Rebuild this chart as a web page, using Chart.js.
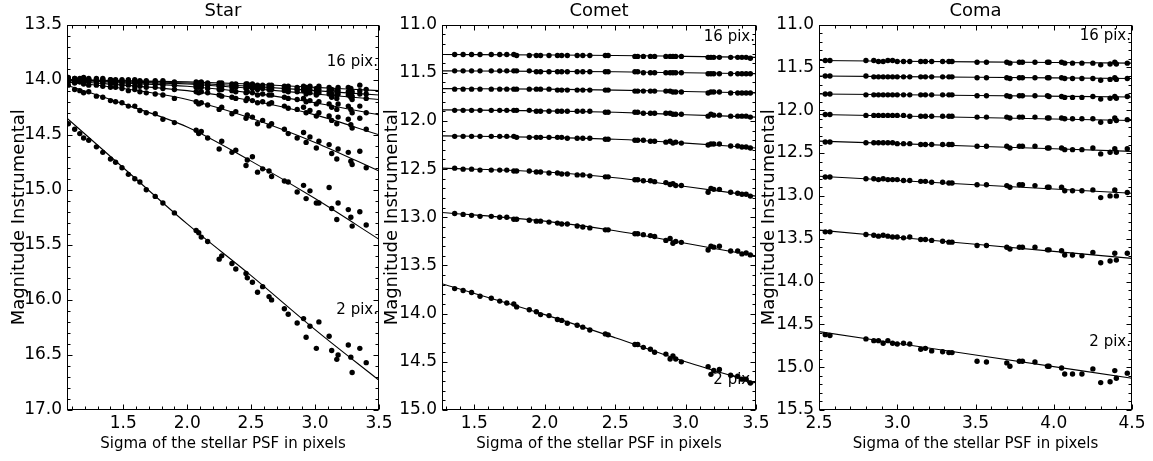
<!DOCTYPE html>
<html>
<head>
<meta charset="utf-8">
<title>Magnitude vs PSF sigma</title>
<script src="https://cdn.jsdelivr.net/npm/chart.js@4.4.1/dist/chart.umd.min.js"></script>
<style>
  body { margin: 0; background: #fff; }
  .wrap { position: relative; width: 1153px; height: 461px; }
  canvas { position: absolute; left: 0; top: 0; }
</style>
</head>
<body>
<div class="wrap">
  <canvas id="star" width="1153" height="461"></canvas>
  <canvas id="comet" width="1153" height="461"></canvas>
  <canvas id="coma" width="1153" height="461"></canvas>
</div>
<script>
// ---- Star panel ----
const starSigma = [1.07,1.12,1.16,1.19,1.23,1.29,1.34,1.40,1.44,1.49,
  1.54,1.59,1.63,1.68,1.75,1.81,1.90,2.07,2.09,2.11,
  2.16,2.25,2.27,2.35,2.38,2.46,2.47,2.51,2.55,2.59,
  2.64,2.66,2.76,2.79,2.86,2.91,2.93,2.96,3.01,3.03,
  3.11,3.13,3.17,3.18,3.26,3.28,3.29,3.35,3.40];
const starMag16 = [13.98,13.99,13.99,13.98,13.99,13.99,13.99,14.00,14.00,14.00,
  14.00,14.00,14.01,14.01,14.01,14.01,14.02,14.02,14.03,14.02,
  14.03,14.03,14.03,14.04,14.04,14.04,14.04,14.04,14.05,14.05,
  14.05,14.05,14.06,14.06,14.07,14.06,14.07,14.06,14.08,14.06,
  14.07,14.09,14.10,14.07,14.07,14.08,14.11,14.05,14.09];
const starMag12 = [13.99,13.99,14.00,13.99,14.00,14.00,14.00,14.00,14.01,14.01,
  14.01,14.01,14.02,14.02,14.02,14.02,14.03,14.04,14.04,14.03,
  14.04,14.05,14.05,14.05,14.06,14.06,14.06,14.06,14.07,14.07,
  14.07,14.07,14.08,14.09,14.09,14.08,14.10,14.09,14.11,14.09,
  14.10,14.13,14.14,14.10,14.11,14.12,14.15,14.10,14.13];
const starMag10 = [13.99,14.00,14.00,14.00,14.00,14.01,14.01,14.01,14.01,14.02,
  14.02,14.02,14.02,14.03,14.03,14.03,14.04,14.05,14.05,14.05,
  14.05,14.06,14.06,14.07,14.07,14.08,14.07,14.08,14.09,14.08,
  14.09,14.09,14.10,14.11,14.11,14.10,14.13,14.12,14.14,14.12,
  14.13,14.16,14.17,14.13,14.14,14.16,14.18,14.13,14.17];
const starMag8 = [14.00,14.00,14.01,14.00,14.01,14.01,14.02,14.02,14.02,14.03,
  14.03,14.03,14.04,14.04,14.04,14.05,14.05,14.07,14.07,14.07,
  14.08,14.09,14.09,14.10,14.11,14.12,14.11,14.12,14.14,14.13,
  14.14,14.14,14.16,14.17,14.18,14.17,14.20,14.19,14.22,14.20,
  14.22,14.25,14.27,14.22,14.24,14.27,14.30,14.24,14.30];
const starMag6 = [14.01,14.01,14.02,14.02,14.02,14.03,14.03,14.04,14.04,14.05,
  14.05,14.06,14.06,14.07,14.07,14.08,14.09,14.11,14.12,14.11,
  14.12,14.14,14.15,14.16,14.17,14.19,14.17,14.19,14.21,14.20,
  14.22,14.21,14.24,14.26,14.27,14.25,14.30,14.28,14.33,14.30,
  14.33,14.37,14.40,14.34,14.36,14.41,14.44,14.35,14.45];
const starMag4 = [14.02,14.03,14.02,14.04,14.05,14.05,14.06,14.07,14.07,14.08,
  14.10,14.09,14.11,14.12,14.13,14.14,14.17,14.20,14.22,14.21,
  14.23,14.27,14.25,14.31,14.29,14.35,14.32,14.34,14.40,14.37,
  14.42,14.40,14.45,14.49,14.53,14.48,14.57,14.52,14.62,14.56,
  14.59,14.67,14.72,14.63,14.66,14.74,14.77,14.65,14.80];
const starMag3 = [14.05,14.09,14.10,14.12,14.11,14.15,14.16,14.19,14.20,14.21,
  14.24,14.24,14.28,14.30,14.31,14.36,14.39,14.46,14.49,14.47,
  14.53,14.63,14.56,14.66,14.64,14.78,14.73,14.70,14.84,14.81,
  14.83,14.88,14.92,14.93,15.02,14.96,15.08,15.01,15.12,15.12,
  14.98,15.17,15.27,15.12,15.18,15.25,15.33,15.20,15.32];
const starMag2 = [14.40,14.45,14.49,14.53,14.55,14.61,14.66,14.72,14.75,14.80,
  14.86,14.90,14.93,15.00,15.06,15.12,15.21,15.37,15.39,15.43,
  15.47,15.63,15.60,15.67,15.72,15.76,15.80,15.84,15.93,15.88,
  15.97,16.00,16.08,16.13,16.21,16.17,16.34,16.24,16.44,16.20,
  16.33,16.46,16.54,16.50,16.41,16.52,16.66,16.44,16.57];
const starFitSigma = [1.06, 1.5, 2.0, 2.5, 3.0, 3.5];
const starFit16 = [14.00, 14.01, 14.02, 14.04, 14.07, 14.10];
const starFit12 = [14.00, 14.01, 14.03, 14.06, 14.10, 14.14];
const starFit10 = [14.00, 14.02, 14.04, 14.08, 14.13, 14.18];
const starFit8 = [14.00, 14.03, 14.06, 14.12, 14.21, 14.32];
const starFit6 = [14.01, 14.05, 14.10, 14.19, 14.32, 14.50];
const starFit4 = [14.02, 14.08, 14.18, 14.35, 14.57, 14.83];
const starFit3 = [14.05, 14.22, 14.43, 14.74, 15.08, 15.45];
const starFit2 = [14.35, 14.80, 15.31, 15.78, 16.27, 16.73];

// ---- Comet panel ----
const cometSigma = [1.36,1.42,1.48,1.54,1.62,1.68,1.73,1.78,1.80,1.89,
  1.94,1.97,2.03,2.09,2.12,2.16,2.23,2.27,2.32,2.43,
  2.45,2.64,2.66,2.70,2.75,2.78,2.86,2.89,2.91,2.93,
  2.97,3.16,3.18,3.20,3.24,3.32,3.37,3.40,3.43,3.46];
const cometMag16 = [11.31,11.31,11.31,11.31,11.31,11.31,11.31,11.31,11.32,11.32,
  11.32,11.32,11.32,11.32,11.32,11.32,11.32,11.32,11.32,11.32,
  11.32,11.33,11.33,11.33,11.33,11.33,11.33,11.33,11.33,11.33,
  11.33,11.34,11.34,11.34,11.34,11.34,11.34,11.34,11.34,11.35];
const cometMag14 = [11.48,11.48,11.48,11.48,11.48,11.48,11.48,11.48,11.48,11.48,
  11.49,11.49,11.49,11.49,11.49,11.49,11.49,11.49,11.49,11.49,
  11.49,11.49,11.49,11.50,11.50,11.50,11.50,11.50,11.50,11.50,
  11.50,11.51,11.51,11.51,11.51,11.51,11.51,11.51,11.51,11.51];
const cometMag12 = [11.67,11.67,11.67,11.67,11.67,11.67,11.67,11.67,11.67,11.67,
  11.67,11.67,11.67,11.68,11.68,11.68,11.68,11.68,11.68,11.68,
  11.68,11.69,11.69,11.69,11.69,11.69,11.69,11.69,11.70,11.70,
  11.70,11.71,11.70,11.70,11.70,11.71,11.71,11.71,11.71,11.71];
const cometMag10 = [11.89,11.89,11.89,11.89,11.89,11.89,11.89,11.89,11.89,11.89,
  11.90,11.90,11.90,11.90,11.90,11.90,11.90,11.90,11.90,11.91,
  11.91,11.91,11.91,11.92,11.92,11.92,11.92,11.92,11.93,11.93,
  11.93,11.95,11.93,11.94,11.94,11.95,11.95,11.95,11.95,11.96];
const cometMag8 = [12.16,12.16,12.16,12.16,12.16,12.16,12.16,12.16,12.17,12.17,
  12.17,12.17,12.17,12.17,12.17,12.18,12.18,12.18,12.18,12.19,
  12.19,12.20,12.20,12.20,12.21,12.21,12.22,12.21,12.23,12.22,
  12.23,12.25,12.24,12.24,12.24,12.26,12.26,12.27,12.27,12.28];
const cometMag6 = [12.49,12.50,12.50,12.51,12.51,12.51,12.51,12.52,12.52,12.52,
  12.53,12.53,12.54,12.54,12.55,12.55,12.56,12.56,12.57,12.58,
  12.58,12.61,12.61,12.62,12.62,12.63,12.64,12.66,12.65,12.67,
  12.67,12.74,12.70,12.71,12.71,12.74,12.75,12.76,12.76,12.78];
const cometMag4 = [12.96,12.97,12.98,12.99,12.99,13.00,13.00,13.02,13.02,13.03,
  13.04,13.04,13.05,13.06,13.07,13.07,13.09,13.10,13.11,13.13,
  13.13,13.17,13.17,13.18,13.19,13.20,13.24,13.22,13.27,13.25,
  13.26,13.34,13.30,13.31,13.30,13.35,13.35,13.38,13.37,13.39];
const cometMag2 = [13.74,13.76,13.78,13.82,13.84,13.87,13.89,13.90,13.93,13.96,
  13.98,14.01,14.02,14.06,14.07,14.10,14.12,14.14,14.17,14.21,
  14.22,14.32,14.32,14.35,14.37,14.40,14.42,14.47,14.44,14.47,
  14.50,14.55,14.63,14.59,14.58,14.64,14.65,14.68,14.68,14.72];
const cometFitSigma = [1.27, 2.0, 2.5, 3.0, 3.5];
const cometFit16 = [11.310, 11.315, 11.320, 11.330, 11.340];
const cometFit14 = [11.480, 11.485, 11.490, 11.500, 11.510];
const cometFit12 = [11.665, 11.670, 11.680, 11.695, 11.710];
const cometFit10 = [11.885, 11.895, 11.910, 11.935, 11.960];
const cometFit8 = [12.155, 12.170, 12.190, 12.230, 12.280];
const cometFit6 = [12.49, 12.53, 12.59, 12.68, 12.78];
const cometFit4 = [12.95, 13.04, 13.14, 13.27, 13.40];
const cometFit2 = [13.69, 14.01, 14.25, 14.50, 14.72];

// ---- Coma panel ----
const comaSigma = [2.54,2.57,2.80,2.85,2.88,2.91,2.94,2.97,3.00,3.04,
  3.08,3.15,3.18,3.22,3.29,3.33,3.35,3.51,3.57,3.70,
  3.72,3.78,3.80,3.88,3.96,3.97,4.05,4.07,4.12,4.18,
  4.25,4.30,4.36,4.39,4.40,4.47];
const comaMag16 = [11.42,11.42,11.42,11.42,11.43,11.43,11.42,11.42,11.43,11.43,
  11.43,11.43,11.43,11.43,11.43,11.43,11.43,11.44,11.44,11.44,
  11.45,11.44,11.44,11.44,11.44,11.44,11.44,11.45,11.45,11.45,
  11.45,11.47,11.46,11.44,11.46,11.45];
const comaMag14 = [11.60,11.60,11.60,11.61,11.61,11.61,11.61,11.61,11.61,11.61,
  11.61,11.61,11.61,11.61,11.61,11.61,11.61,11.62,11.62,11.62,
  11.63,11.62,11.62,11.62,11.62,11.62,11.62,11.63,11.63,11.63,
  11.63,11.65,11.64,11.62,11.64,11.63];
const comaMag12 = [11.81,11.81,11.82,11.82,11.82,11.82,11.82,11.82,11.82,11.82,
  11.82,11.82,11.82,11.82,11.82,11.82,11.82,11.83,11.83,11.83,
  11.84,11.83,11.83,11.83,11.83,11.84,11.84,11.85,11.85,11.85,
  11.84,11.87,11.86,11.84,11.86,11.84];
const comaMag10 = [12.05,12.05,12.06,12.06,12.06,12.06,12.06,12.06,12.06,12.06,
  12.07,12.07,12.07,12.07,12.07,12.07,12.07,12.08,12.08,12.08,
  12.09,12.08,12.08,12.08,12.09,12.09,12.09,12.10,12.10,12.10,
  12.10,12.14,12.13,12.09,12.12,12.11];
const comaMag8 = [12.37,12.37,12.38,12.38,12.38,12.38,12.38,12.38,12.39,12.39,
  12.39,12.40,12.40,12.40,12.40,12.40,12.40,12.42,12.42,12.42,
  12.44,12.42,12.42,12.42,12.44,12.44,12.44,12.46,12.46,12.46,
  12.44,12.51,12.49,12.45,12.49,12.45];
const comaMag6 = [12.78,12.78,12.80,12.80,12.81,12.80,12.81,12.81,12.81,12.82,
  12.82,12.83,12.83,12.84,12.84,12.85,12.85,12.87,12.87,12.88,
  12.90,12.87,12.87,12.88,12.90,12.90,12.90,12.94,12.94,12.94,
  12.93,13.02,13.00,12.93,13.00,12.96];
const comaMag4 = [13.42,13.42,13.45,13.46,13.47,13.46,13.47,13.48,13.48,13.49,
  13.48,13.51,13.51,13.52,13.53,13.54,13.54,13.58,13.58,13.60,
  13.62,13.60,13.60,13.60,13.63,13.63,13.64,13.69,13.69,13.70,
  13.66,13.78,13.76,13.67,13.75,13.67];
const comaMag2 = [14.62,14.63,14.67,14.69,14.69,14.72,14.69,14.72,14.73,14.72,
  14.73,14.79,14.78,14.81,14.82,14.83,14.83,14.93,14.94,14.95,
  14.99,14.93,14.93,14.94,14.99,14.99,15.01,15.08,15.08,15.08,
  15.02,15.18,15.17,15.04,15.13,15.07];
const comaFitSigma = [2.5, 3.5, 4.5];
const comaFit16 = [11.420, 11.435, 11.450];
const comaFit14 = [11.600, 11.615, 11.630];
const comaFit12 = [11.810, 11.827, 11.845];
const comaFit10 = [12.050, 12.085, 12.120];
const comaFit8 = [12.360, 12.420, 12.480];
const comaFit6 = [12.770, 12.870, 12.970];
const comaFit4 = [13.400, 13.565, 13.730];
const comaFit2 = [14.585, 14.857, 15.130];

Chart.defaults.font.family = "'DejaVu Sans', sans-serif";
Chart.defaults.color = "#000";
Chart.defaults.animation = false;

// matplotlib-like frame: box on all sides with inward major/minor ticks
const frameTicks = {
  id: "frameTicks",
  afterDraw(chart) {
    const { ctx, chartArea: a, scales: { x, y } } = chart;
    const L = Math.round(a.left) + 0.5, R = Math.round(a.right) - 0.5;
    const T = Math.round(a.top) + 0.5, B = Math.round(a.bottom) - 0.5;
    ctx.save();
    ctx.strokeStyle = "#000";
    ctx.lineWidth = 1;
    ctx.beginPath();
    for (let i = Math.ceil(x.min * 10 - 1e-6); i <= Math.floor(x.max * 10 + 1e-6); i++) {
      const px = Math.round(x.getPixelForValue(i / 10)) + 0.5;
      const len = i % 5 === 0 ? 5 : 3;
      ctx.moveTo(px, B); ctx.lineTo(px, B - len);
      ctx.moveTo(px, T); ctx.lineTo(px, T + len);
    }
    for (let i = Math.ceil(y.min * 10 - 1e-6); i <= Math.floor(y.max * 10 + 1e-6); i++) {
      const py = Math.round(y.getPixelForValue(i / 10)) + 0.5;
      const len = i % 5 === 0 ? 5 : 3;
      ctx.moveTo(L, py); ctx.lineTo(L + len, py);
      ctx.moveTo(R, py); ctx.lineTo(R - len, py);
    }
    ctx.stroke();
    ctx.strokeRect(L, T, R - L, B - T);
    ctx.restore();
  }
};

function pixNotes(notes) {
  return {
    id: "pixNotes",
    afterDatasetsDraw(chart) {
      const { ctx, chartArea: a, scales: { y } } = chart;
      ctx.save();
      ctx.font = "15px 'DejaVu Sans', sans-serif";
      ctx.fillStyle = "#000";
      ctx.textAlign = "right";
      ctx.textBaseline = "middle";
      notes.forEach((n) => ctx.fillText(n.text, a.right - 1, y.getPixelForValue(n.mag)));
      ctx.restore();
    }
  };
}

function makePanel(id, title, sigma, mags, fitSigma, fits, xr, yr, box, notes) {
  const datasets = [];
  mags.forEach((m) => {
    datasets.push({
      data: sigma.map((s, i) => ({ x: s, y: m[i] })),
      showLine: false,
      pointRadius: 2.7,
      pointBackgroundColor: "#000",
      pointBorderWidth: 0
    });
  });
  fits.forEach((f) => {
    datasets.push({
      data: fitSigma.map((s, i) => ({ x: s, y: f[i] })),
      showLine: true,
      pointRadius: 0,
      borderColor: "#000",
      borderWidth: 1.1,
      cubicInterpolationMode: "monotone"
    });
  });

  return new Chart(document.getElementById(id), {
    type: "scatter",
    data: { datasets },
    plugins: [frameTicks, pixNotes(notes)],
    options: {
      responsive: false,
      events: [],
      layout: { padding: { left: box.left, right: box.right, top: 0, bottom: 0 } },
      plugins: {
        legend: { display: false },
        tooltip: { enabled: false },
        title: {
          display: true,
          text: title,
          fullSize: false,
          font: { size: 18, weight: "normal" },
          color: "#000",
          padding: { top: 1, bottom: 2 }
        }
      },
      scales: {
        x: {
          type: "linear",
          min: xr[0],
          max: xr[1],
          grid: { display: false, drawTicks: false },
          border: { display: false },
          ticks: {
            stepSize: 0.5,
            includeBounds: false,
            autoSkip: false,
            maxRotation: 0,
            padding: 3,
            font: { size: 17 },
            color: "#000",
            callback: (v) => v.toFixed(1)
          },
          title: {
            display: true,
            text: "Sigma of the stellar PSF in pixels",
            font: { size: 15 },
            color: "#000",
            padding: { top: 0, bottom: 8 }
          },
          afterFit: (s) => { s.height = 51; }
        },
        y: {
          type: "linear",
          reverse: true,
          min: yr[0],
          max: yr[1],
          grid: { display: false, drawTicks: false },
          border: { display: false },
          ticks: {
            stepSize: 0.5,
            autoSkip: false,
            padding: 5,
            font: { size: 17 },
            color: "#000",
            callback: (v) => v.toFixed(1)
          },
          title: {
            display: true,
            text: "Magnitude Instrumental",
            font: { size: 18 },
            color: "#000",
            padding: { top: box.titleGap, bottom: 0 }
          },
          afterFit: (s) => { s.width = 67; }
        }
      }
    }
  });
}

makePanel("star", "Star", starSigma,
  [starMag16, starMag12, starMag10, starMag8, starMag6, starMag4, starMag3, starMag2],
  starFitSigma,
  [starFit16, starFit12, starFit10, starFit8, starFit6, starFit4, starFit3, starFit2],
  [1.06, 3.5], [13.5, 17.0],
  { left: 0, right: 774, titleGap: 9 },
  [{ text: "16 pix.", mag: 13.84 }, { text: "2 pix.", mag: 16.09 }]);

makePanel("comet", "Comet", cometSigma,
  [cometMag16, cometMag14, cometMag12, cometMag10, cometMag8, cometMag6, cometMag4, cometMag2],
  cometFitSigma,
  [cometFit16, cometFit14, cometFit12, cometFit10, cometFit8, cometFit6, cometFit4, cometFit2],
  [1.27, 3.5], [11.0, 15.0],
  { left: 375, right: 397, titleGap: 7 },
  [{ text: "16 pix.", mag: 11.135 }, { text: "2 pix.", mag: 14.69 }]);

makePanel("coma", "Coma", comaSigma,
  [comaMag16, comaMag14, comaMag12, comaMag10, comaMag8, comaMag6, comaMag4, comaMag2],
  comaFitSigma,
  [comaFit16, comaFit14, comaFit12, comaFit10, comaFit8, comaFit6, comaFit4, comaFit2],
  [2.5, 4.5], [11.0, 15.5],
  { left: 752, right: 21, titleGap: 7 },
  [{ text: "16 pix.", mag: 11.14 }, { text: "2 pix.", mag: 14.705 }]);
</script>
</body>
</html>
